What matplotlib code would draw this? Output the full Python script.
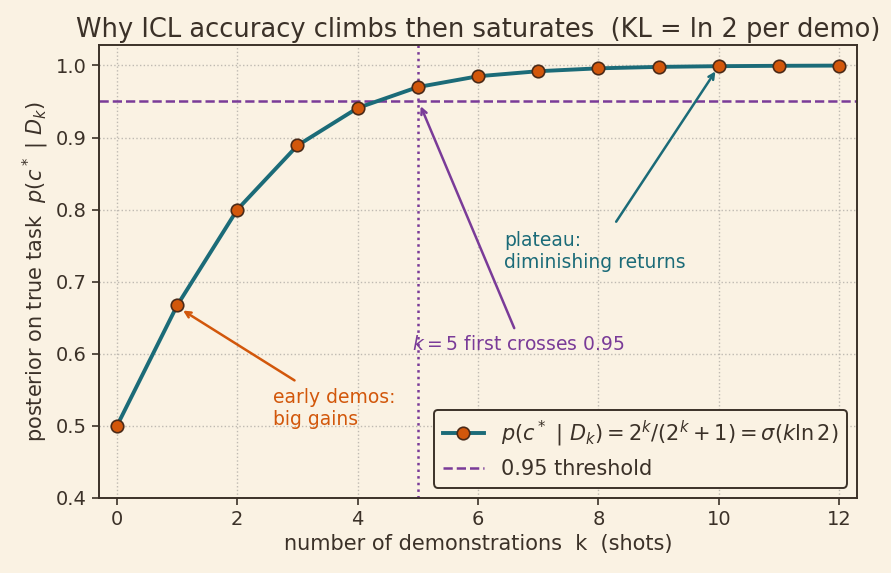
import numpy as np
import matplotlib.pyplot as plt

# shots and posterior on true task
k = [0, 1, 2, 3, 4, 5, 6, 7, 8, 9, 10, 11, 12]
posterior = [0.5, 0.667, 0.8, 0.889, 0.941, 0.970, 0.985, 0.992, 0.996, 0.998, 0.999, 0.9995, 0.9998]
threshold = 0.95
cross_k = 5

bg = "#faf2e3"
ink = "#3b3128"
teal = "#1b6b78"
orange = "#d2570b"
purple = "#7a3b98"

plt.rcParams['font.family'] = ['DejaVu Sans']
plt.rcParams['text.color'] = ink
plt.rcParams['axes.labelcolor'] = ink
plt.rcParams['xtick.color'] = ink
plt.rcParams['ytick.color'] = ink

fig = plt.figure(figsize=(8.91, 5.73), dpi=100, facecolor=bg)
ax = fig.add_axes([0.111, 0.131, 0.851, 0.790])
ax.set_facecolor(bg)

ax.grid(True, color="#bfbab2", linestyle=":", linewidth=1.0)
ax.set_axisbelow(True)

ax.plot(k, posterior, color=teal, lw=2.8, marker="o", ms=9,
        mfc=orange, mec="#4a2a18", mew=1.2,
        label=r"$p(c^*\ |\ D_k) = 2^k/(2^k+1) = \sigma(k\ln 2)$", zorder=3)
ax.axhline(threshold, color=purple, ls="--", lw=1.8, label="0.95 threshold")
ax.axvline(cross_k, color=purple, ls=":", lw=1.8)

ax.annotate("", xy=(1.06, 0.662), xytext=(2.99, 0.561),
            arrowprops=dict(arrowstyle="->", color=orange, lw=1.8))
ax.text(2.6, 0.495, "early demos:\nbig gains", color=orange, fontsize=13.5,
        ha="left", va="bottom")

ax.annotate("", xy=(9.97, 0.995), xytext=(8.27, 0.78),
            arrowprops=dict(arrowstyle="->", color=teal, lw=1.8))
ax.text(6.43, 0.714, "plateau:\ndiminishing returns", color=teal, fontsize=13.5,
        ha="left", va="bottom")

ax.annotate("", xy=(5.03, 0.947), xytext=(6.62, 0.632),
            arrowprops=dict(arrowstyle="->", color=purple, lw=1.8))
ax.text(4.9, 0.60, r"$k=5$ first crosses 0.95", color=purple, fontsize=13.5,
        ha="left", va="bottom")

ax.set_xlim(-0.3, 12.3)
ax.set_ylim(0.4, 1.028)
ax.set_xticks(range(0, 13, 2))
ax.tick_params(labelsize=14, length=5, width=1.2)
for s in ax.spines.values():
    s.set_color(ink)
    s.set_linewidth(1.4)

ax.set_xlabel("number of demonstrations  k  (shots)", fontsize=15)
ax.set_ylabel(r"posterior on true task  $p(c^*\ |\ D_k)$", fontsize=15)
ax.set_title("Why ICL accuracy climbs then saturates  (KL = ln 2 per demo)",
             fontsize=18.5, color=ink)

leg = ax.legend(loc="lower right", fontsize=15, facecolor=bg, edgecolor=ink,
                framealpha=1)
leg.get_frame().set_linewidth(1.4)

fig.savefig("out.png", dpi=100, facecolor=bg)
